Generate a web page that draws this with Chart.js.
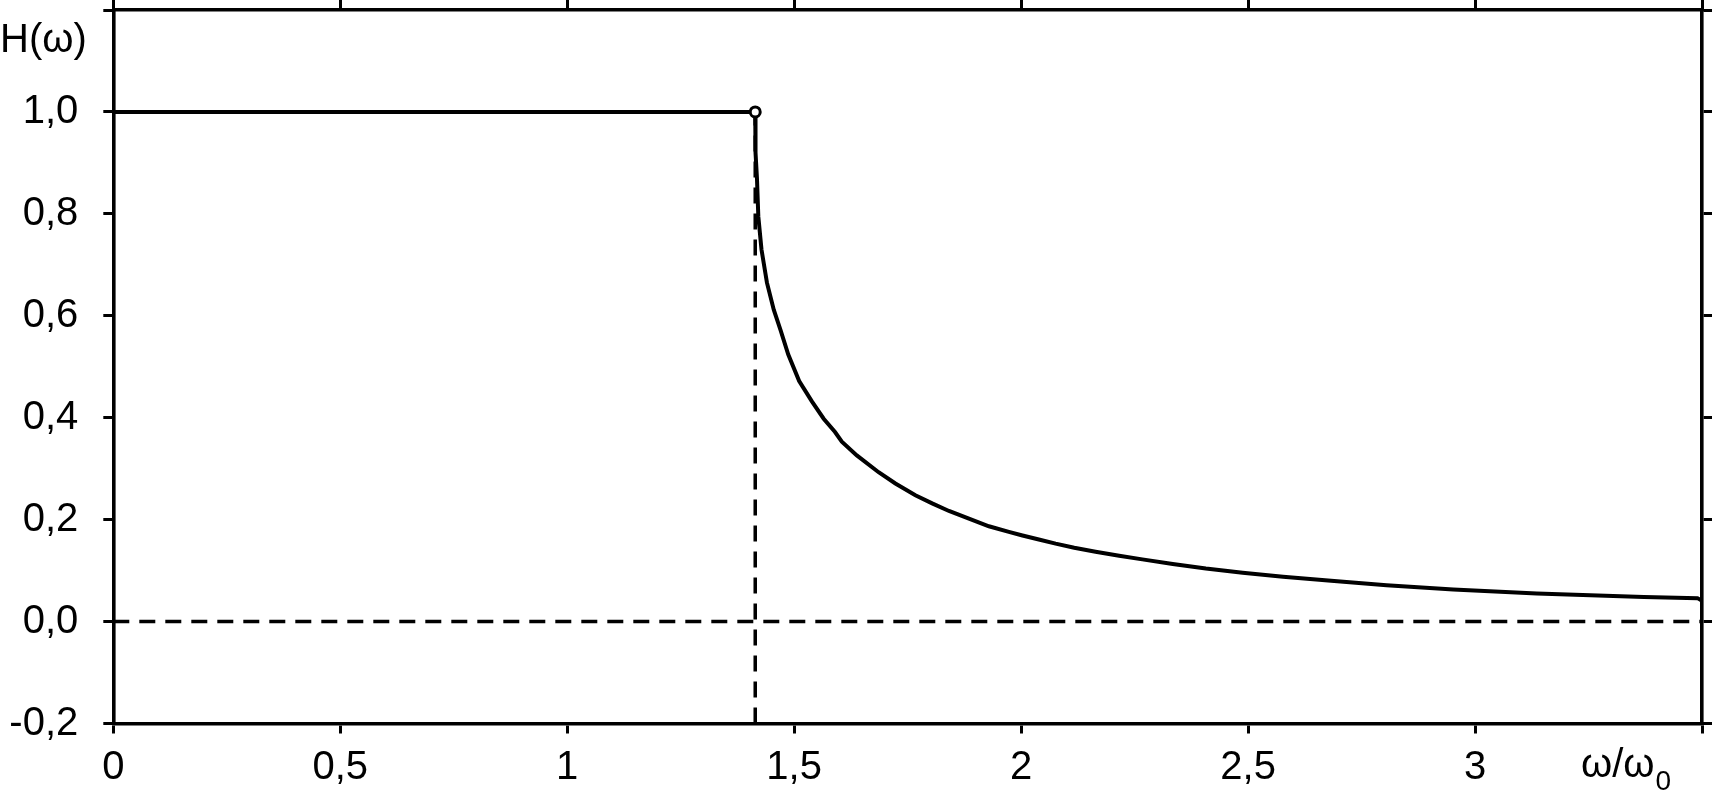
<!DOCTYPE html>
<html><head><meta charset="utf-8">
<script src="https://cdn.jsdelivr.net/npm/chart.js@4.4.1/dist/chart.umd.min.js"></script>
<style>html,body{margin:0;padding:0;background:#fff;} #wrap{width:1712px;height:792px;position:relative;}</style>
</head><body><div id="wrap"><canvas id="c"></canvas></div>
<script>
// pass band (flat part)
const passX = [0, 1.4142];
const passH = [1.0, 1.0];
// stop band (decaying part)
const stopX = [1.4142, 1.4155, 1.418, 1.421, 1.428, 1.440, 1.455, 1.470, 1.487, 1.511, 1.539, 1.565, 1.590, 1.605, 1.638, 1.686, 1.723, 1.767, 1.804, 1.841, 1.885, 1.929, 1.973, 2.003, 2.039, 2.076, 2.117, 2.164, 2.216, 2.267, 2.334, 2.407, 2.488, 2.577, 2.683, 2.805, 2.952, 3.136, 3.372, 3.49, 3.5];
const stopH = [1.0, 0.92, 0.87, 0.795, 0.73, 0.665, 0.612, 0.572, 0.524, 0.472, 0.432, 0.398, 0.372, 0.353, 0.326, 0.293, 0.271, 0.248, 0.232, 0.217, 0.202, 0.187, 0.176, 0.169, 0.161, 0.153, 0.145, 0.137, 0.129, 0.122, 0.113, 0.104, 0.096, 0.088, 0.080, 0.0715, 0.063, 0.055, 0.048, 0.046, 0.041];
const cutoffX = 1.4142;
const xTickLabels = ['0', '0,5', '1', '1,5', '2', '2,5', '3', ''];
const yTickLabels = ['-0,2', '0,0', '0,2', '0,4', '0,6', '0,8', '1,0', ''];
const yAxisTitle = 'H(\u03C9)';
const xAxisTitleMain = '\u03C9/\u03C9';
const xAxisTitleSub = '0';

const FONT = '"Liberation Sans", Arial, Helvetica, sans-serif';
const LW = 3.6;

const mainPts = passX.map((x, i) => ({x, y: passH[i]})).concat(stopX.map((x, i) => ({x, y: stopH[i]})));

const gridCfg = {display: true, drawOnChartArea: false, drawTicks: true, tickLength: 10, color: '#000', lineWidth: 3};
const borderCfg = {display: true, color: '#000', width: LW};
const noPad = s => { s.paddingTop = 0; s.paddingBottom = 0; s.paddingLeft = 0; s.paddingRight = 0; };

const textPlugin = {
  id: 'texts',
  afterDraw(chart) {
    const ctx = chart.ctx;
    ctx.save();
    ctx.fillStyle = '#000';
    ctx.textBaseline = 'alphabetic';
    ctx.textAlign = 'left';
    ctx.font = '40px ' + FONT;
    ctx.fillText(yAxisTitle, 0, 52);
    ctx.fillText(xAxisTitleMain, 1581, 777);
    const w = ctx.measureText(xAxisTitleMain).width;
    ctx.font = '28px ' + FONT;
    ctx.fillText(xAxisTitleSub, 1581 + w + 1, 790);
    ctx.restore();
  }
};

new Chart(document.getElementById('c'), {
  type: 'scatter',
  data: {
    datasets: [
      {order: 3, data: [{x: 0, y: 0}, {x: 3.5, y: 0}], showLine: true, borderColor: '#000', borderWidth: 3.5, borderDash: [16, 10], pointRadius: 0},
      {order: 2, data: [{x: cutoffX, y: -0.2}, {x: cutoffX, y: 1.0}], showLine: true, borderColor: '#000', borderWidth: 3.5, borderDash: [16, 10], pointRadius: 0},
      {order: 1, data: mainPts, showLine: true, borderColor: '#000', borderWidth: 4, pointRadius: 0, tension: 0},
      {order: 0, data: [{x: cutoffX, y: 1.0}], showLine: false, pointRadius: 5, pointBorderWidth: 3, pointBorderColor: '#000', pointBackgroundColor: '#fff'}
    ]
  },
  options: {
    responsive: true, maintainAspectRatio: false, animation: false, devicePixelRatio: 1,
    layout: {padding: 0},
    plugins: {legend: {display: false}, tooltip: {enabled: false}},
    scales: {
      x: {type: 'linear', position: 'bottom', min: 0, max: 3.5,
        ticks: {stepSize: 0.5, color: '#000', font: {family: FONT, size: 40}, padding: 10, maxRotation: 0, autoSkip: false,
          callback: (v, i) => xTickLabels[i] ?? ''},
        grid: gridCfg, border: borderCfg,
        afterFit: s => { s.height = 68.5; noPad(s); }},
      x2: {type: 'linear', position: 'top', min: 0, max: 3.5,
        ticks: {stepSize: 0.5, display: false}, grid: gridCfg, border: borderCfg,
        afterFit: s => { s.height = 10; noPad(s); }},
      y: {type: 'linear', position: 'left', min: -0.2, max: 1.2,
        ticks: {stepSize: 0.2, color: '#000', font: {family: FONT, size: 40}, padding: 25, autoSkip: false,
          callback: (v, i) => yTickLabels[i] ?? ''},
        grid: gridCfg, border: borderCfg,
        afterFit: s => { s.width = 113.3; noPad(s); }},
      y2: {type: 'linear', position: 'right', min: -0.2, max: 1.2,
        ticks: {stepSize: 0.2, display: false}, grid: gridCfg, border: borderCfg,
        afterFit: s => { s.width = 10; noPad(s); }}
    }
  },
  plugins: [textPlugin]
});
</script></body></html>
